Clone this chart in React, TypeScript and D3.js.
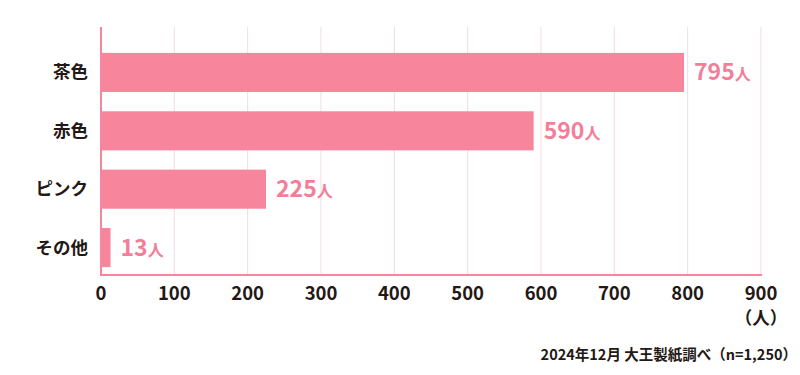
import React from "react";
import * as d3 from "d3";

const categories = ["茶色", "赤色", "ピンク", "その他"];
const values = [795, 590, 225, 13];
const ticks = [0, 100, 200, 300, 400, 500, 600, 700, 800, 900];
const unit = "人";
const source = "2024年12月 大王製紙調べ（n=1,250）";

export default function App() {
  const W = 800, H = 375;
  const left = 101, right = 761, top = 27, bottom = 275;
  const x = d3.scaleLinear().domain([0, 900]).range([left, right]);
  const y = d3.scaleBand<string>().domain(categories).range([43, 277]).paddingInner(0.33).paddingOuter(0.17);
  const font = "'Noto Sans CJK JP', 'Noto Sans', sans-serif";
  const pink = "#f7869d";
  const dark = "#231815";
  return (
    <svg width={W} height={H} style={{ position: "absolute", left: 0, top: 0 }} fontFamily={font}>
      <rect width={W} height={H} fill="#fff" />
      {ticks.filter(t => t > 0).map(t => (
        <line key={t} x1={x(t)} x2={x(t)} y1={top} y2={bottom} stroke="#f0dde3" strokeWidth={1} />
      ))}
      {categories.map((c, i) => (
        <g key={c}>
          <rect x={x(0)} y={y(c)} width={x(values[i]) - x(0)} height={y.bandwidth()} fill={pink} />
          <text x={x(values[i]) + 10} y={(y(c) as number) + y.bandwidth() / 2 + 8} fill="#f27f99" fontWeight={700}>
            <tspan fontSize={23}>{values[i]}</tspan>
            <tspan fontSize={16}>{unit}</tspan>
          </text>
          <text x={88} y={(y(c) as number) + y.bandwidth() / 2 + 6} textAnchor="end" fontSize={17.5} fontWeight={700} fill={dark}>{c}</text>
        </g>
      ))}
      <line x1={left} x2={left} y1={top} y2={bottom + 1} stroke={pink} strokeWidth={2} />
      <line x1={left - 1} x2={right + 1} y1={bottom} y2={bottom} stroke={pink} strokeWidth={2} />
      {ticks.map(t => (
        <text key={t} x={x(t)} y={300} textAnchor="middle" fontSize={18.5} fontWeight={700} fill={dark}>{t}</text>
      ))}
      <text x={x(900)} y={324} textAnchor="middle" fontSize={17.5} fontWeight={700} fill={dark}>（人）</text>
      <text x={797} y={360} textAnchor="end" fontSize={14.5} fontWeight={700} fill={dark}>{source}</text>
    </svg>
  );
}
